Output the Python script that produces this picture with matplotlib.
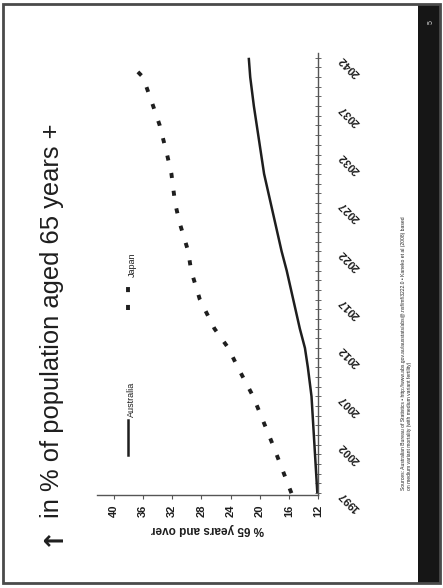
import matplotlib
matplotlib.use("Agg")
import matplotlib.pyplot as plt
from matplotlib.patches import Rectangle
from matplotlib.ticker import MultipleLocator

plt.rcParams['font.family'] = ['Liberation Sans', 'DejaVu Sans']

# data (share of population aged 65+, %)
years_aus = [1997, 2002, 2007, 2010, 2012, 2014, 2017, 2020, 2022, 2025, 2027, 2030, 2032, 2035, 2037, 2040, 2042]
australia = [12.1, 12.5, 12.9, 13.4, 13.8, 14.5, 15.4, 16.3, 17.0, 17.9, 18.5, 19.4, 19.8, 20.4, 20.8, 21.3, 21.5]
years_jpn = [1997, 2002, 2007, 2010, 2012, 2014, 2017, 2020, 2022, 2025, 2027, 2030, 2032, 2035, 2037, 2040, 2041]
japan = [15.65, 18.2, 20.9, 23.0, 24.3, 26.2, 28.2, 29.4, 29.8, 31.0, 31.6, 32.1, 32.7, 33.7, 34.6, 36.0, 37.3]
pct_ticks = [12, 16, 20, 24, 28, 32, 36, 40]
year_ticks = [1997, 2002, 2007, 2012, 2017, 2022, 2027, 2032, 2037, 2042]

title = "in % of population aged 65 years +"
ylabel = "% 65 years and over"
source1 = ("Sources: Australian Bureau of Statistics \u2022 http://www.abs.gov.au/ausstats/abs@.nsf/mf/3222.0"
           " \u2022 Kaneko et al (2008) based")
source2 = "on medium variant mortality (with medium variant fertility)"

ink = '#1e1e1e'
dots = (0, (1.3, 3.3))

# the slide is photographed on its side, so the chart is drawn turned:
# years run up the page, percentages run right-to-left
fig = plt.figure(figsize=(4.43, 5.88), dpi=100)
fig.patch.set_facecolor('white')

# slide frame and dark footer bar (right edge)
fig.patches.append(Rectangle((0.944, 0.009), 0.049, 0.983, transform=fig.transFigure,
                             facecolor='#161616', edgecolor='none', zorder=0))
fig.patches.append(Rectangle((0.006, 0.008), 0.988, 0.986, transform=fig.transFigure,
                             facecolor='none', edgecolor='#4a4a4a', lw=2.0, zorder=5))
fig.text(0.973, 0.963, "5", color='#d8d8d8', fontsize=5, rotation=90,
         ha='center', va='center')

ax = fig.add_axes([0.219, 0.158, 0.499, 0.752])
ax.plot(australia, years_aus, color=ink, lw=1.8, solid_capstyle='butt')
ax.plot(japan, years_jpn, color=ink, lw=2.8, linestyle=dots, dash_capstyle='butt')

ax.set_xlim(42.3, 12)
ax.set_ylim(1996.8, 2042.5)
ax.set_xticks(pct_ticks)
ax.set_yticks(year_ticks)
ax.yaxis.set_minor_locator(MultipleLocator(1))
ax.yaxis.tick_right()

for s in ['top', 'left']:
    ax.spines[s].set_visible(False)
for s in ['bottom', 'right']:
    ax.spines[s].set_color('#555555')
    ax.spines[s].set_linewidth(1.0)

ax.tick_params(axis='x', direction='out', length=3, width=0.8, color='#555555',
               labelsize=8, labelrotation=90, pad=4, labelcolor=ink)
ax.tick_params(axis='y', which='both', direction='inout', length=5, width=0.7,
               color='#666666', labelsize=8, pad=14, labelcolor=ink)
ax.tick_params(axis='y', which='minor', length=4)
for lbl in ax.get_xticklabels():
    lbl.set_fontweight('bold')
for lbl in ax.get_yticklabels():
    lbl.set_rotation(135)
    lbl.set_rotation_mode('anchor')
    lbl.set_ha('right')
    lbl.set_va('center')
    lbl.set_fontweight('bold')

ax.set_xlabel(ylabel, rotation=180, fontsize=8.5, fontweight='bold', color=ink, labelpad=4)

# legend, turned like the rest of the slide
ax.plot([0.14, 0.14], [0.09, 0.17], transform=ax.transAxes, color=ink, lw=1.8)
ax.text(0.158, 0.176, "Australia", transform=ax.transAxes, rotation=90,
        ha='center', va='bottom', fontsize=6.5, color=ink)
ax.plot([0.14, 0.14], [0.418, 0.472], transform=ax.transAxes, color=ink, lw=2.8,
        linestyle=dots, dash_capstyle='butt')
ax.text(0.158, 0.493, "Japan", transform=ax.transAxes, rotation=90,
        ha='center', va='bottom', fontsize=6.5, color=ink)

# title with its arrow
fig.text(0.117, 0.090, "\u2191", rotation=90, ha='center', va='center', fontsize=19,
         fontweight='bold', color=ink, family=['DejaVu Sans'])
fig.text(0.117, 0.119, title, rotation=90, ha='center', va='bottom', fontsize=18.4, color=ink)

# source note
fig.text(0.910, 0.166, source1, rotation=90, ha='center', va='bottom', fontsize=3.6, color='#222222')
fig.text(0.924, 0.166, source2, rotation=90, ha='center', va='bottom', fontsize=3.6, color='#222222')

fig.savefig("out.png", dpi=100)
plt.close(fig)
